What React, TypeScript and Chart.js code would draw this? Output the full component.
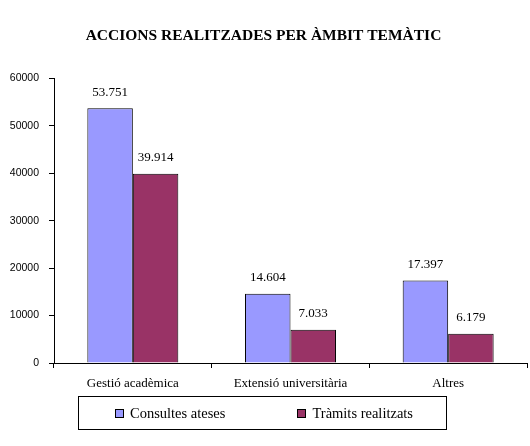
import { useEffect, useRef } from "react";
import { Chart, registerables } from "chart.js";

Chart.register(...registerables);

const title = "ACCIONS REALITZADES PER ÀMBIT TEMÀTIC";
const categories = ["Gestió acadèmica", "Extensió universitària", "Altres"];
const seriesNames = ["Consultes ateses", "Tràmits realitzats"];
const consultes = [53751, 14604, 17397];
const tramits = [39914, 7033, 6179];
const seriesColors = ["#9999FF", "#993366"];
const yTicks = [0, 10000, 20000, 30000, 40000, 50000, 60000];

const SERIF = "'Liberation Serif', 'Times New Roman', serif";
const SANS = "'Liberation Sans', Arial, sans-serif";

const fmt = (v: number) => String(v).replace(/\B(?=(\d{3})+(?!\d))/g, ".");

// etiquetes de valor damunt de cada barra
const valueLabels = {
  id: "valueLabels",
  afterDatasetsDraw(chart: any) {
    const ctx = chart.ctx;
    ctx.save();
    ctx.font = `13px ${SERIF}`;
    ctx.fillStyle = "#000";
    ctx.textAlign = "center";
    ctx.textBaseline = "alphabetic";
    chart.data.datasets.forEach((ds: any, i: number) => {
      const meta = chart.getDatasetMeta(i);
      meta.data.forEach((bar: any, j: number) => {
        ctx.fillText(fmt(ds.data[j]), bar.x, bar.y - 12.5);
      });
    });
    ctx.restore();
  },
};

export default function App() {
  const canvasRef = useRef<HTMLCanvasElement | null>(null);
  const chartRef = useRef<Chart | null>(null);

  useEffect(() => {
    if (!canvasRef.current) return;
    if (chartRef.current) chartRef.current.destroy();

    chartRef.current = new Chart(canvasRef.current, {
      type: "bar",
      data: {
        labels: categories,
        datasets: [consultes, tramits].map((data, i) => ({
          label: seriesNames[i],
          data,
          backgroundColor: seriesColors[i],
          borderColor: "#000",
          borderWidth: 1,
          barPercentage: 1,
          categoryPercentage: 0.577,
        })),
      },
      options: {
        animation: false,
        responsive: false,
        maintainAspectRatio: false,
        layout: { padding: { left: 0, right: 3, top: 0, bottom: 53 } },
        plugins: {
          legend: { display: false },
          tooltip: { enabled: false },
          title: {
            display: true,
            text: title,
            color: "#000",
            font: { family: SERIF, size: 15.5, weight: "bold", lineHeight: 1.2 },
            padding: { top: 27, bottom: 33 },
          },
        },
        scales: {
          x: {
            grid: {
              drawOnChartArea: false,
              drawTicks: true,
              tickLength: 5,
              color: "#000",
              offset: true,
            },
            border: { display: true, color: "#000", width: 1 },
            ticks: {
              color: "#000",
              font: { family: SERIF, size: 13 },
              padding: 8,
              maxRotation: 0,
            },
            afterFit: (s: any) => {
              s.height = 30;
            },
          },
          y: {
            min: 0,
            max: 60000,
            grid: {
              drawOnChartArea: false,
              drawTicks: true,
              tickLength: 5,
              color: "#000",
            },
            border: { display: true, color: "#000", width: 1 },
            ticks: {
              color: "#000",
              font: { family: SANS, size: 10.5 },
              padding: 10,
              stepSize: 10000,
              callback: (v: any) => (yTicks.includes(v) ? String(v) : ""),
            },
            afterFit: (s: any) => {
              s.width = 54;
            },
          },
        },
      },
      plugins: [valueLabels],
    } as any);

    return () => {
      if (chartRef.current) {
        chartRef.current.destroy();
        chartRef.current = null;
      }
    };
  }, []);

  return (
    <div
      style={{
        position: "absolute",
        left: 0,
        top: 0,
        width: 530,
        height: 446,
        background: "#fff",
      }}
    >
      <canvas ref={canvasRef} width={530} height={446} style={{ display: "block" }} />
      {/* llegenda */}
      <div
        style={{
          position: "absolute",
          left: 78,
          top: 396,
          width: 369,
          height: 34,
          boxSizing: "border-box",
          border: "1px solid #000",
          display: "flex",
          alignItems: "center",
          paddingLeft: 36,
          gap: 72,
          fontFamily: SERIF,
          fontSize: 14.5,
          color: "#000",
        }}
      >
        {seriesNames.map((name, i) => (
          <div key={name} style={{ display: "flex", alignItems: "center" }}>
            <span
              style={{
                display: "inline-block",
                width: 9,
                height: 9,
                boxSizing: "border-box",
                border: "1px solid #000",
                background: seriesColors[i],
                marginRight: 6,
                marginTop: 1,
              }}
            />
            <span>{name}</span>
          </div>
        ))}
      </div>
    </div>
  );
}
